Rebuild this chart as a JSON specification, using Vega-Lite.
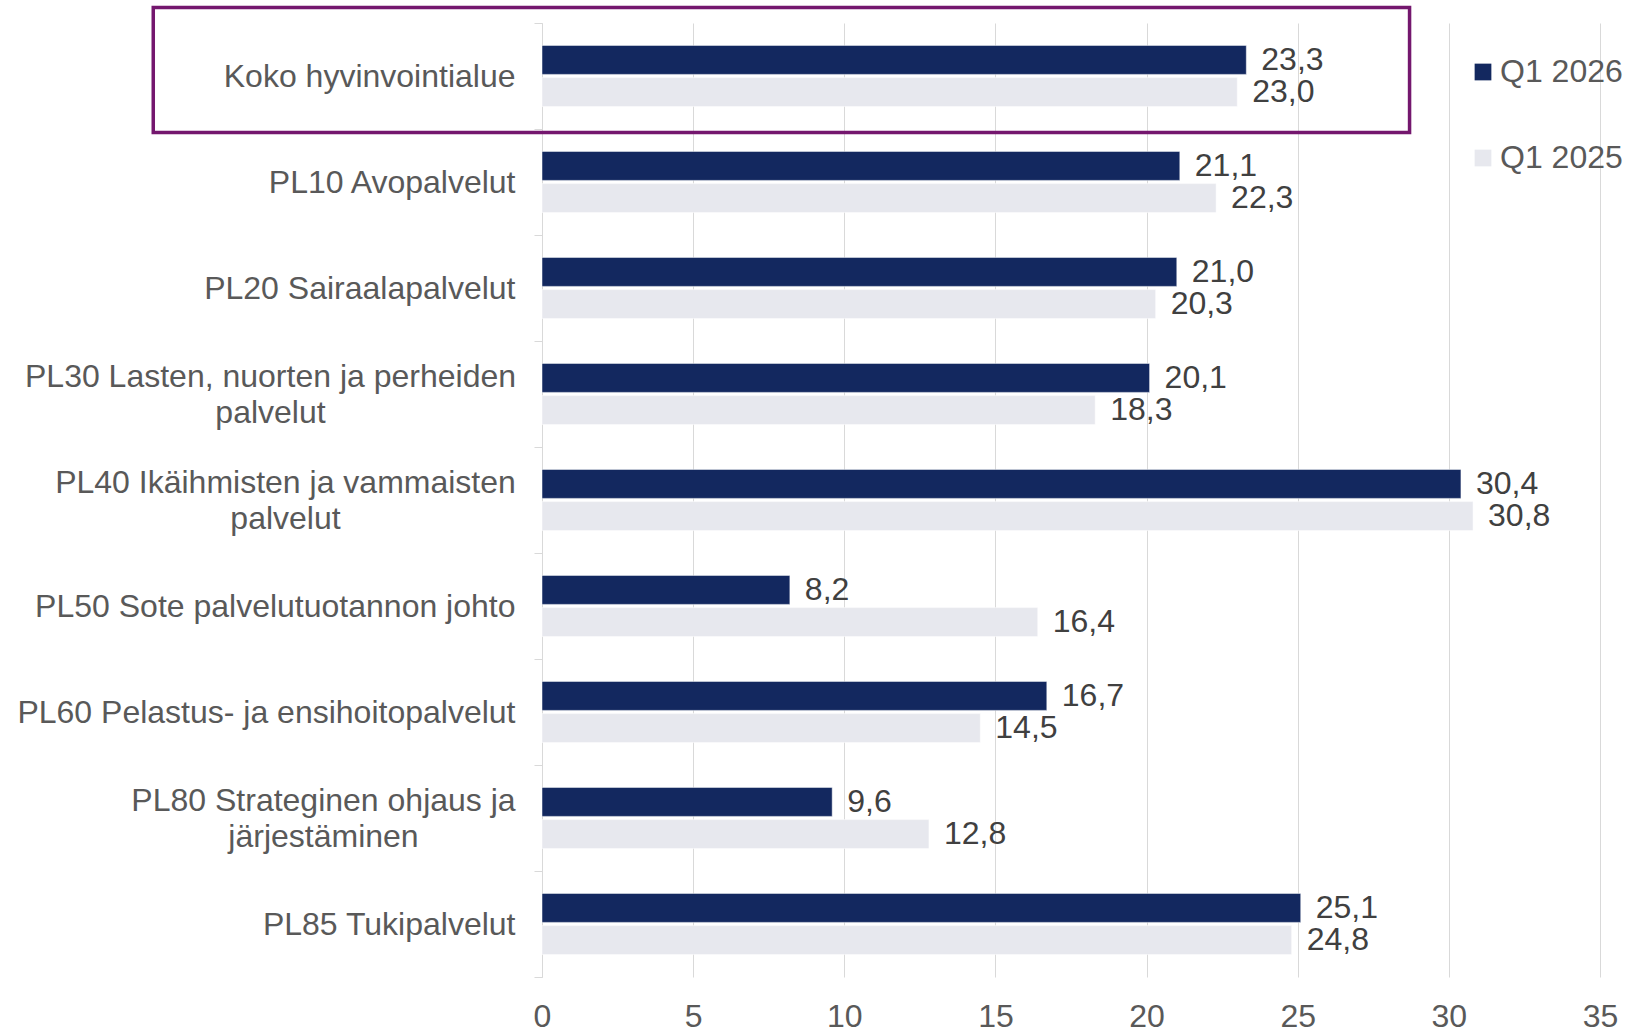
{
  "$schema": "https://vega.github.io/schema/vega-lite/v6.json",
  "width": 1058,
  "height": 954,
  "autosize": "none",
  "padding": {"left": 542, "top": 23, "right": 47, "bottom": 53},
  "background": "white",
  "config": {
    "locale": {"number": {"decimal": ",", "thousands": " ", "grouping": [3], "currency": ["", " €"]}},
    "view": {"stroke": null},
    "font": "Liberation Sans"
  },
  "data": {
    "values": [
      {"cat": "Koko hyvinvointialue", "period": "Q1 2026", "value": 23.3},
      {"cat": "Koko hyvinvointialue", "period": "Q1 2025", "value": 23.0},
      {"cat": "PL10 Avopalvelut", "period": "Q1 2026", "value": 21.1},
      {"cat": "PL10 Avopalvelut", "period": "Q1 2025", "value": 22.3},
      {"cat": "PL20 Sairaalapalvelut", "period": "Q1 2026", "value": 21.0},
      {"cat": "PL20 Sairaalapalvelut", "period": "Q1 2025", "value": 20.3},
      {"cat": "PL30 Lasten, nuorten ja perheiden palvelut", "period": "Q1 2026", "value": 20.1},
      {"cat": "PL30 Lasten, nuorten ja perheiden palvelut", "period": "Q1 2025", "value": 18.3},
      {"cat": "PL40 Ikäihmisten ja vammaisten palvelut", "period": "Q1 2026", "value": 30.4},
      {"cat": "PL40 Ikäihmisten ja vammaisten palvelut", "period": "Q1 2025", "value": 30.8},
      {"cat": "PL50 Sote palvelutuotannon johto", "period": "Q1 2026", "value": 8.2},
      {"cat": "PL50 Sote palvelutuotannon johto", "period": "Q1 2025", "value": 16.4},
      {"cat": "PL60 Pelastus- ja ensihoitopalvelut", "period": "Q1 2026", "value": 16.7},
      {"cat": "PL60 Pelastus- ja ensihoitopalvelut", "period": "Q1 2025", "value": 14.5},
      {"cat": "PL80 Strateginen ohjaus ja järjestäminen", "period": "Q1 2026", "value": 9.6},
      {"cat": "PL80 Strateginen ohjaus ja järjestäminen", "period": "Q1 2025", "value": 12.8},
      {"cat": "PL85 Tukipalvelut", "period": "Q1 2026", "value": 25.1},
      {"cat": "PL85 Tukipalvelut", "period": "Q1 2025", "value": 24.8}
    ]
  },
  "layer": [
    {
      "mark": {"type": "bar", "stroke": "white", "strokeWidth": 0.5},
      "encoding": {
        "y": {
          "field": "cat",
          "type": "nominal",
          "scale": {
            "domain": ["Koko hyvinvointialue", "PL10 Avopalvelut", "PL20 Sairaalapalvelut", "PL30 Lasten, nuorten ja perheiden palvelut", "PL40 Ikäihmisten ja vammaisten palvelut", "PL50 Sote palvelutuotannon johto", "PL60 Pelastus- ja ensihoitopalvelut", "PL80 Strateginen ohjaus ja järjestäminen", "PL85 Tukipalvelut"],
            "paddingInner": 0,
            "paddingOuter": 0
          },
          "axis": {
            "title": null,
            "domain": true,
            "domainColor": "#d9d9d9",
            "ticks": true,
            "tickColor": "#d9d9d9",
            "tickSize": 8,
            "tickBand": "extent",
            "grid": false,
            "labelFontSize": 32,
            "labelColor": "#595959",
            "labelLineHeight": 36,
            "labelLimit": 800,
            "labelExpr": "datum.value == 'PL30 Lasten, nuorten ja perheiden palvelut' ? ['PL30 Lasten, nuorten ja perheiden', 'palvelut'] : datum.value == 'PL40 Ikäihmisten ja vammaisten palvelut' ? ['PL40 Ikäihmisten ja vammaisten', 'palvelut'] : datum.value == 'PL80 Strateginen ohjaus ja järjestäminen' ? ['PL80 Strateginen ohjaus ja', 'järjestäminen'] : datum.label",
            "labelAlign": {
              "condition": {"test": "datum.value == 'PL30 Lasten, nuorten ja perheiden palvelut' || datum.value == 'PL40 Ikäihmisten ja vammaisten palvelut' || datum.value == 'PL80 Strateginen ohjaus ja järjestäminen'", "value": "center"},
              "value": "right"
            },
            "labelPadding": {
              "condition": [
                {"test": "datum.value == 'PL30 Lasten, nuorten ja perheiden palvelut'", "value": 264},
                {"test": "datum.value == 'PL40 Ikäihmisten ja vammaisten palvelut'", "value": 249},
                {"test": "datum.value == 'PL80 Strateginen ohjaus ja järjestäminen'", "value": 211}
              ],
              "value": 19
            },
            "labelOffset": {
              "condition": {"test": "datum.value == 'PL30 Lasten, nuorten ja perheiden palvelut' || datum.value == 'PL40 Ikäihmisten ja vammaisten palvelut' || datum.value == 'PL80 Strateginen ohjaus ja järjestäminen'", "value": -18},
              "value": 0
            }
          }
        },
        "yOffset": {
          "field": "period",
          "type": "nominal",
          "sort": ["Q1 2026", "Q1 2025"],
          "scale": {"paddingInner": 0.1, "paddingOuter": 0.695}
        },
        "x": {
          "field": "value",
          "type": "quantitative",
          "scale": {"domain": [0, 35], "nice": false},
          "axis": {
            "title": null,
            "values": [0, 5, 10, 15, 20, 25, 30, 35],
            "grid": true,
            "gridColor": "#d9d9d9",
            "gridWidth": 1,
            "domain": false,
            "ticks": false,
            "labelFlush": false,
            "labelFontSize": 32,
            "labelColor": "#595959",
            "labelPadding": 24,
            "format": "d"
          }
        },
        "color": {
          "field": "period",
          "type": "nominal",
          "scale": {"domain": ["Q1 2026", "Q1 2025"], "range": ["#13285f", "#e7e8ee"]},
          "legend": {
            "title": null,
            "orient": "none",
            "legendX": 925,
            "legendY": 33,
            "padding": 0,
            "symbolType": "square",
            "symbolSize": 280,
            "symbolStrokeWidth": 0,
            "labelFontSize": 32,
            "labelColor": "#595959",
            "labelOffset": 1,
            "rowPadding": 54,
            "direction": "vertical"
          }
        }
      }
    },
    {
      "mark": {"type": "text", "align": "left", "baseline": "middle", "dx": 15, "fontSize": 32, "color": "#404040"},
      "encoding": {
        "y": {"field": "cat", "type": "nominal"},
        "yOffset": {"field": "period", "type": "nominal", "sort": ["Q1 2026", "Q1 2025"]},
        "x": {"field": "value", "type": "quantitative"},
        "text": {"field": "value", "type": "quantitative", "format": ".1f"}
      }
    },
    {
      "data": {"values": [{}]},
      "mark": {"type": "bar", "fill": "transparent", "stroke": "#74176e", "strokeWidth": 3.5, "height": {"band": 1.18}, "yOffset": -6},
      "encoding": {
        "y": {"datum": "Koko hyvinvointialue", "type": "nominal"},
        "x": {"datum": -12.86, "type": "quantitative"},
        "x2": {"datum": 28.7}
      }
    }
  ]
}
